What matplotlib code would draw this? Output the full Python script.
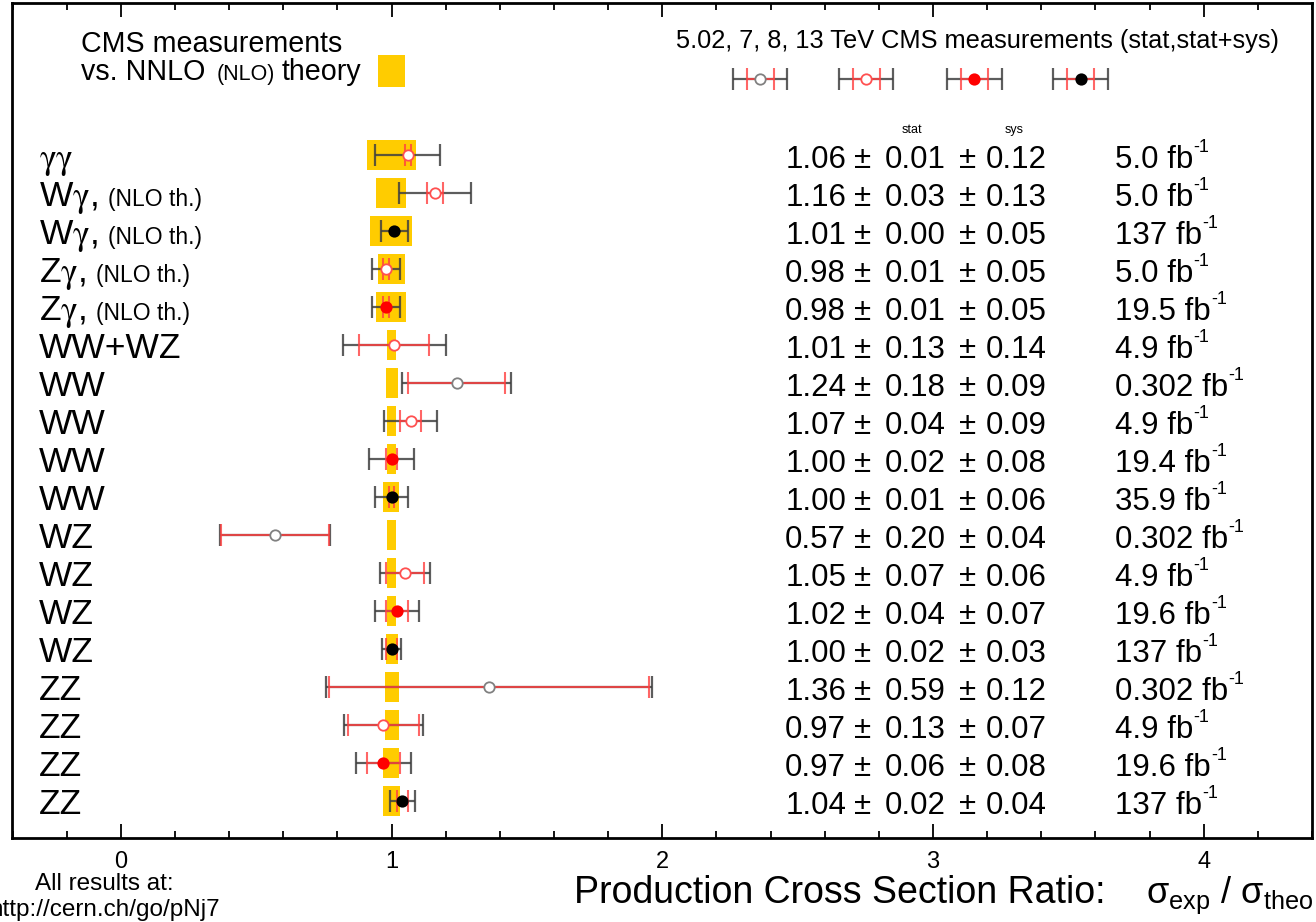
import numpy as np
import matplotlib
matplotlib.use("Agg")
import matplotlib.pyplot as plt
from matplotlib.patches import Rectangle

plt.rcParams["font.family"] = ["Liberation Sans", "DejaVu Sans"]
plt.rcParams["mathtext.fontset"] = "custom"
plt.rcParams["mathtext.rm"] = "Liberation Sans"
plt.rcParams["mathtext.it"] = "Liberation Sans:italic"
plt.rcParams["mathtext.cal"] = "STIXGeneral"
plt.rcParams["mathtext.default"] = "regular"

G = r"$\mathcal{\gamma}$"

# --- data ---
processes = [G + G, "W" + G + ",", "W" + G + ",", "Z" + G + ",", "Z" + G + ",", "WW+WZ",
             "WW", "WW", "WW", "WW",
             "WZ", "WZ", "WZ", "WZ",
             "ZZ", "ZZ", "ZZ", "ZZ"]
nlo_only = [False, True, True, True, True, False,
            False, False, False, False,
            False, False, False, False,
            False, False, False, False]
ratio = [1.06, 1.16, 1.01, 0.98, 0.98, 1.01,
         1.24, 1.07, 1.00, 1.00,
         0.57, 1.05, 1.02, 1.00,
         1.36, 0.97, 0.97, 1.04]
stat = [0.01, 0.03, 0.00, 0.01, 0.01, 0.13,
        0.18, 0.04, 0.02, 0.01,
        0.20, 0.07, 0.04, 0.02,
        0.59, 0.13, 0.06, 0.02]
syst = [0.12, 0.13, 0.05, 0.05, 0.05, 0.14,
        0.09, 0.09, 0.08, 0.06,
        0.04, 0.06, 0.07, 0.03,
        0.12, 0.07, 0.08, 0.04]
lumi = ["5.0", "5.0", "137", "5.0", "19.5", "4.9",
        "0.302", "4.9", "19.4", "35.9",
        "0.302", "4.9", "19.6", "137",
        "0.302", "4.9", "19.6", "137"]
energy = [7, 7, 13, 7, 8, 7,
          5.02, 7, 8, 13,
          5.02, 7, 8, 13,
          5.02, 7, 8, 13]
theory_lo = [0.911, 0.941, 0.919, 0.948, 0.941, 0.982,
             0.978, 0.982, 0.982, 0.970,
             0.982, 0.982, 0.982, 0.978,
             0.974, 0.974, 0.970, 0.967]
theory_hi = [1.089, 1.055, 1.077, 1.048, 1.055, 1.018,
             1.022, 1.018, 1.018, 1.026,
             1.018, 1.018, 1.018, 1.022,
             1.028, 1.028, 1.028, 1.032]

legend_energies = [5.02, 7, 8, 13]

# marker style per centre-of-mass energy: (face, edge)
styles = {5.02: ("white", "#808080"), 7: ("white", "#ff5050"),
          8: ("red", "red"), 13: ("black", "black")}

YELLOW = "#ffcc00"
TOT_COL = "#404040"
STAT_COL = "#ff4040"

n = len(processes)
ratio = np.array(ratio)
stat = np.array(stat)
syst = np.array(syst)
total = np.sqrt(stat ** 2 + syst ** 2)
rows = np.arange(n)[::-1].astype(float)


# layout helpers: reference pixel -> data coordinates
def xpx(px):
    return (px - 121) / 271.0


def ypx(py):
    return (n - 1) + (155 - py) / 38.0


def draw_point(ax, x, y, e_tot, e_stat, en):
    face, edge = styles[en]
    ax.errorbar(x, y, xerr=e_tot, fmt="none", ecolor=TOT_COL, elinewidth=1.6,
                capsize=8, capthick=1.6, alpha=0.85, zorder=3)
    if e_stat > 0:
        ax.errorbar(x, y, xerr=e_stat, fmt="none", ecolor=STAT_COL, elinewidth=1.5,
                    capsize=8, capthick=1.5, alpha=0.8, zorder=4)
    ax.plot(x, y, "o", ms=7.5, mfc=face, mec=edge, mew=1.3, zorder=5)


fig = plt.figure(figsize=(13.16, 9.22), dpi=100)
ax = fig.add_axes([11.7 / 1316, 84 / 922, (1312 - 11.7) / 1316, (838 - 3) / 922])
ax.set_xlim(xpx(11.7), xpx(1312))
ax.set_ylim(ypx(838), ypx(3))
renderer = fig.canvas.get_renderer()


def after(t, gap_px):
    # data x just right of a drawn text
    bb = t.get_window_extent(renderer)
    return ax.transData.inverted().transform((bb.x1 + gap_px, bb.y0))[0]


# theory bands
for y, lo, hi in zip(rows, theory_lo, theory_hi):
    ax.add_patch(Rectangle((lo, y - 0.4), hi - lo, 0.8, color=YELLOW, lw=0, zorder=1))

# measurements
for y, r, et, es, en in zip(rows, ratio, total, stat, energy):
    draw_point(ax, r, y, et, es, en)

# row labels, numbers and luminosities
for y, name, nlo, r, s, sy, lu in zip(rows, processes, nlo_only, ratio, stat, syst, lumi):
    yb = y - 0.35
    t = ax.text(xpx(39), yb, name, fontsize=25.5, va="baseline", ha="left")
    if nlo:
        ax.text(after(t, 10), yb, "(NLO th.)", fontsize=16.5, va="baseline", ha="left")
    yn = y - 0.335
    ax.text(xpx(786), yn, f"{r:.2f}", fontsize=22.5, va="baseline", ha="left")
    ax.text(xpx(863), yn, "±", fontsize=22.5, va="baseline", ha="center")
    ax.text(xpx(886), yn, f"{s:.2f}", fontsize=22.5, va="baseline", ha="left")
    ax.text(xpx(969), yn, "±", fontsize=22.5, va="baseline", ha="center")
    ax.text(xpx(987), yn, f"{sy:.2f}", fontsize=22.5, va="baseline", ha="left")
    tl = ax.text(xpx(1116), yn, lu + " fb", fontsize=22.5, va="baseline", ha="left")
    ax.text(after(tl, 0.5), yn + 15.5 / 38, "-1", fontsize=13, va="baseline", ha="left")

ax.text(xpx(913), ypx(130), "stat", fontsize=9, ha="center", va="center")
ax.text(xpx(1015), ypx(130), "sys", fontsize=9, ha="center", va="center")

# top-left legend
ax.text(xpx(81), ypx(51.7), "CMS measurements", fontsize=20.6, va="baseline")
t1 = ax.text(xpx(81), ypx(80), "vs. NNLO", fontsize=20.6, va="baseline")
t2 = ax.text(after(t1, 11), ypx(80), "(NLO)", fontsize=15.5, va="baseline")
ax.text(after(t2, 7), ypx(80), "theory", fontsize=20.6, va="baseline")
ax.add_patch(Rectangle((xpx(378), ypx(87)), xpx(405) - xpx(378), ypx(55) - ypx(87),
                       color=YELLOW, lw=0, zorder=1))

# top-right legend
ax.text(xpx(979), ypx(48), "5.02, 7, 8, 13 TeV CMS measurements (stat,stat+sys)",
        fontsize=18.3, ha="center", va="baseline")
for px, en in zip([761, 867, 975.5, 1081.7], legend_energies):
    draw_point(ax, xpx(px), ypx(79), 0.1, 0.05, en)

# axes styling
ax.set_xticks([0, 1, 2, 3, 4])
ax.set_xticks(np.arange(-0.4, 4.4, 0.2), minor=True)
ax.set_yticks([])
ax.tick_params(axis="x", which="both", direction="in", top=True, bottom=True,
               width=1.3, labelsize=17, pad=9)
ax.tick_params(axis="x", which="major", length=10)
ax.tick_params(axis="x", which="minor", length=5)
for sp in ax.spines.values():
    sp.set_linewidth(2)

fig.text(574.5 / 1316, 1 - 903 / 922, "Production Cross Section Ratio:",
         fontsize=27, ha="left", va="baseline")
fig.text(1146 / 1316, 1 - 903 / 922, r"$\sigma_{exp}$ / $\sigma_{theo}$",
         fontsize=26, ha="left", va="baseline")
fig.text(104.5 / 1316, 1 - 890 / 922, "All results at:", fontsize=17.5,
         ha="center", va="baseline")
fig.text(104.5 / 1316, 1 - 916 / 922, "http://cern.ch/go/pNj7", fontsize=17.5,
         ha="center", va="baseline")

fig.savefig("out.png", dpi=100)
